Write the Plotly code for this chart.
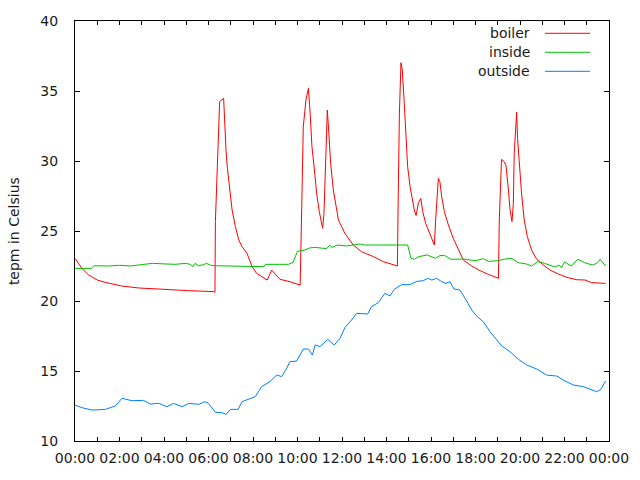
import datetime as dt
import plotly.graph_objects as go

# ---- data (hours since midnight, temperatures in Celsius) ----
boiler_h = [0.0, 0.31, 0.61, 1.0, 1.36, 2.1, 2.86, 4.06, 5.1, 6.23, 6.29, 6.31, 6.4, 6.46, 6.5, 6.68,
            6.73, 6.79, 6.85, 6.94, 7.06, 7.21, 7.36, 7.51, 7.73, 7.96, 8.16, 8.4, 8.64, 8.84, 9.21,
            9.66, 10.12, 10.19, 10.26, 10.38, 10.49, 10.56, 10.65, 10.76, 10.86, 10.98, 11.13, 11.19,
            11.27, 11.34, 11.4, 11.49, 11.61, 11.84, 12.13, 12.51, 12.88, 13.41, 13.86, 14.49, 14.53,
            14.58, 14.65, 14.71, 14.79, 14.86, 14.95, 15.06, 15.16, 15.25, 15.33, 15.43, 15.54, 15.63,
            15.76, 15.91, 16.06, 16.15, 16.21, 16.28, 16.33, 16.4, 16.48, 16.6, 16.78, 17.0, 17.23,
            17.45, 17.83, 18.2, 18.58, 19.03, 19.07, 19.13, 19.17, 19.28, 19.37, 19.48, 19.55, 19.64,
            19.7, 19.74, 19.82, 19.85, 19.89, 19.97, 20.07, 20.19, 20.33, 20.52, 20.75, 21.05, 21.35,
            21.72, 22.1, 22.55, 22.92, 23.22, 23.85]
boiler_v = [23.05, 22.33, 21.86, 21.5, 21.33, 21.07, 20.93, 20.81, 20.74, 20.67, 20.62, 25.67, 29.12,
            32.57, 34.24, 34.48, 32.21, 30.67, 29.48, 28.17, 26.5, 25.31, 24.36, 23.88, 23.4, 22.45,
            21.98, 21.74, 21.5, 22.21, 21.55, 21.38, 21.14, 26.74, 32.45, 34.36, 35.19, 33.64, 31.02,
            29.36, 27.69, 26.38, 25.19, 26.26, 30.55, 33.64, 32.21, 29.83, 27.93, 25.79, 24.83, 24.0,
            23.52, 23.17, 22.81, 22.5, 27.93, 33.4, 37.02, 36.5, 34.36, 31.98, 29.6, 28.17, 27.1, 26.5,
            26.1, 26.98, 27.33, 26.38, 25.55, 24.95, 24.36, 24.0, 25.79, 27.45, 28.76, 28.52, 27.45,
            26.38, 25.43, 24.48, 23.64, 22.93, 22.5, 22.17, 21.9, 21.62, 25.79, 28.76, 30.12, 29.95,
            29.71, 27.93, 26.55, 25.67, 26.98, 30.55, 32.57, 33.48, 31.62, 29.83, 27.69, 25.79, 24.6,
            23.64, 22.98, 22.57, 22.21, 21.93, 21.69, 21.52, 21.5, 21.31, 21.26]

inside_h = [0.0, 0.75, 0.85, 1.5, 2.0, 2.5, 3.0, 3.5, 4.0, 4.5, 5.0, 5.2, 5.29, 5.4, 5.55, 5.8, 5.9,
            6.1, 6.3, 7.0, 8.0, 8.5, 8.56, 9.59, 9.8, 10.0, 10.33, 10.55, 10.78, 11.3, 11.45, 11.55,
            11.8, 12.2, 12.5, 12.82, 13.0, 14.95, 15.1, 15.25, 15.45, 15.84, 16.0, 16.2, 16.4, 16.6,
            16.9, 17.45, 17.98, 18.35, 18.58, 19.03, 19.25, 19.62, 19.92, 20.3, 20.52, 20.8, 21.1,
            21.35, 21.57, 21.75, 21.87, 22.0, 22.15, 22.3, 22.6, 22.9, 23.25, 23.45, 23.6, 23.85]
inside_v = [22.33, 22.33, 22.52, 22.5, 22.55, 22.5, 22.6, 22.69, 22.65, 22.62, 22.69, 22.6, 22.45,
            22.69, 22.52, 22.6, 22.69, 22.55, 22.52, 22.5, 22.5, 22.45, 22.62, 22.62, 22.76, 23.55,
            23.64, 23.79, 23.83, 23.74, 23.98, 23.83, 24.0, 23.93, 24.0, 24.07, 24.0, 24.0, 23.05,
            22.98, 23.17, 23.29, 23.17, 23.05, 23.24, 23.26, 22.98, 23.0, 22.88, 23.02, 22.83, 22.88,
            22.98, 23.05, 22.74, 22.64, 22.5, 22.81, 22.69, 22.57, 22.43, 22.55, 22.4, 22.79, 22.64,
            22.5, 22.98, 22.74, 22.57, 22.69, 22.98, 22.5]

outside_h = [0.0, 0.31, 0.76, 1.36, 1.81, 2.11, 2.56, 3.08, 3.39, 3.76, 4.13, 4.43, 4.81, 5.11, 5.56,
             5.83, 6.0, 6.31, 6.61, 6.8, 6.98, 7.33, 7.51, 7.81, 8.1, 8.39, 8.76, 9.06, 9.29, 9.51,
             9.66, 9.96, 10.26, 10.49, 10.67, 10.79, 11.01, 11.36, 11.65, 11.91, 12.13, 12.43, 12.66,
             13.15, 13.33, 13.63, 13.93, 14.16, 14.35, 14.68, 15.06, 15.36, 15.65, 15.85, 16.03, 16.25,
             16.48, 16.67, 16.85, 17.03, 17.3, 17.53, 17.83, 18.05, 18.35, 18.65, 18.95, 19.18, 19.55,
             19.93, 20.3, 20.75, 21.2, 21.65, 22.02, 22.4, 22.85, 23.15, 23.45, 23.63, 23.85]
outside_v = [12.57, 12.38, 12.21, 12.26, 12.5, 13.05, 12.88, 12.9, 12.64, 12.69, 12.45, 12.69, 12.45,
             12.69, 12.62, 12.81, 12.69, 12.05, 12.02, 11.9, 12.26, 12.26, 12.81, 12.98, 13.17, 13.88,
             14.24, 14.71, 14.6, 15.19, 15.67, 15.71, 16.57, 16.57, 16.14, 16.86, 16.74, 17.26, 16.86,
             17.33, 18.1, 18.64, 19.12, 19.07, 19.6, 19.88, 20.55, 20.36, 20.83, 21.17, 21.17, 21.4,
             21.45, 21.62, 21.5, 21.62, 21.38, 21.26, 21.38, 20.86, 20.79, 20.19, 19.36, 18.93, 18.52,
             17.81, 17.26, 16.79, 16.38, 15.83, 15.43, 15.14, 14.71, 14.64, 14.29, 14.0, 13.88, 13.69,
             13.52, 13.69, 14.29]

series_names = ["boiler", "inside", "outside"]
series_colors = ["#ff0000", "#00c000", "#0080ff"]
y_title = "tepm in Celsius"

base = dt.datetime(2013, 1, 1)


def to_dt(hours):
    return [base + dt.timedelta(hours=h) for h in hours]


FONT = "DejaVu Sans"
TXT = "#1a1a1a"
fig = go.Figure()
for name, hs, vs, col in zip(series_names, [boiler_h, inside_h, outside_h],
                             [boiler_v, inside_v, outside_v], series_colors):
    fig.add_trace(go.Scatter(x=to_dt(hs), y=vs, mode="lines", name=name,
                             line=dict(color=col, width=1), showlegend=False))

# gnuplot-style key: text right-aligned, line sample to its right
key_y = [0.9707, 0.9255, 0.8802]
for name, col, ky in zip(series_names, series_colors, key_y):
    fig.add_annotation(x=0.8565, y=ky, xref="paper", yref="paper", text=name,
                       showarrow=False, xanchor="right", yanchor="middle",
                       font=dict(family=FONT, size=14, color=TXT))
    fig.add_shape(type="line", xref="paper", yref="paper", x0=0.8801, x1=0.9644,
                  y0=ky, y1=ky, line=dict(color=col, width=1))

# y-axis title (rotated), placed left of the tick labels
fig.add_annotation(x=-0.114, y=0.5, xref="paper", yref="paper", text=y_title,
                   textangle=-90, showarrow=False, xanchor="center", yanchor="middle",
                   font=dict(family=FONT, size=14, color=TXT))

fig.update_layout(
    width=640, height=480,
    margin=dict(l=75, r=31, t=21, b=39, autoexpand=False),
    paper_bgcolor="white", plot_bgcolor="white",
    font=dict(family=FONT, size=14, color=TXT),
)
fig.update_xaxes(
    type="date", automargin=False,
    range=[base, base + dt.timedelta(hours=24)],
    tickformat="%H:%M", dtick=2 * 3600 * 1000, tick0=base,
    ticks="inside", ticklen=4, tickcolor="black", tickwidth=1,
    minor=dict(dtick=3600 * 1000, ticks="inside", ticklen=4, tickcolor="black"),
    showline=True, linecolor="black", linewidth=1, mirror="ticks",
    showgrid=False, zeroline=False,
    tickfont=dict(family=FONT, size=14, color=TXT),
    ticklabelstandoff=4,
)
fig.update_yaxes(
    automargin=False,
    range=[10, 40], dtick=5, tick0=10,
    ticks="inside", ticklen=5, tickcolor="black", tickwidth=1,
    showline=True, linecolor="black", linewidth=1, mirror="ticks",
    showgrid=False, zeroline=False,
    tickfont=dict(family=FONT, size=14, color=TXT),
    ticklabelstandoff=13,
)

fig.write_html("out.html", config={"displayModeBar": False},
               post_script="document.body.style.margin='0';")
